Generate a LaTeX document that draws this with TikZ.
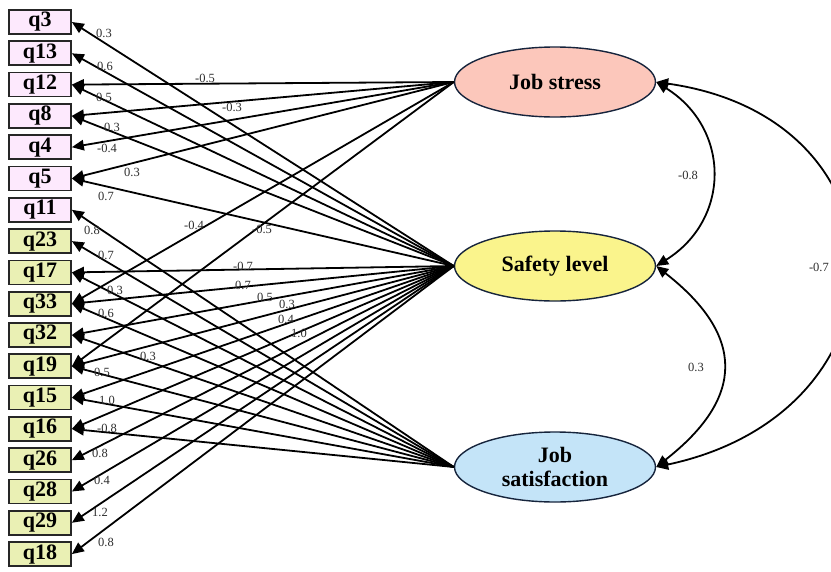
\documentclass[tikz,border=0pt]{standalone}
\usepackage{fontspec}
\setmainfont{Liberation Serif}
\usetikzlibrary{shapes.geometric,arrows.meta}

\definecolor{pinkbox}{RGB}{253,233,253}
\definecolor{greenbox}{RGB}{234,240,180}
\definecolor{stressfill}{RGB}{252,199,187}
\definecolor{safetyfill}{RGB}{250,244,140}
\definecolor{satisfill}{RGB}{196,228,248}
\definecolor{rim}{RGB}{22,36,60}
\definecolor{lblgray}{RGB}{45,45,45}

\begin{document}
\begin{tikzpicture}
  [
    x=1pt, y=-1pt,
    >={Triangle[length=12pt,width=10.5pt]},
    item/.style   = {draw=black!85, line width=1.7pt, minimum width=62pt, minimum height=24pt,
                     inner sep=0pt, font=\fontsize{22}{22}\selectfont\bfseries},
    factor/.style = {ellipse, draw=rim, line width=1.4pt, minimum width=201pt, minimum height=70pt,
                     inner sep=0pt, align=center, font=\fontsize{22}{24}\selectfont\bfseries},
    load/.style   = {->, line width=1.8pt},
    cov/.style    = {<->, line width=1.8pt},
    lbl/.style    = {inner sep=0pt, text=lblgray, font=\fontsize{12.5}{12.5}\selectfont},
  ]

%Frame of the picture
\clip (0,0) rectangle (831,571);

%Vertical distance between the indicator boxes
\def \ystep{31.3}

%Indicator boxes
\foreach [count=\i] \j in {3,13,12,8,4,5,11}
  \node[item, fill=pinkbox] (q\j) at (40, {22+(\i-1)*\ystep}) {q\j};
\foreach [count=\i from 8] \j in {23,17,33,32,19,15,16,26,28,29,18}
  \node[item, fill=greenbox] (q\j) at (40, {22+(\i-1)*\ystep}) {q\j};

%Latent variables
\node[factor, fill=stressfill] (stress) at (555,82)  {Job stress};
\node[factor, fill=safetyfill] (safety) at (555,266) {Safety level};
\node[factor, fill=satisfill]  (satis)  at (555,467) {Job\\satisfaction};

%Loadings of job stress
\foreach \bx/\val/\lx/\ly in {q12/-0.5/205/78, q8/-0.3/232/107, q4/-0.4/107/148,
                              q5/0.3/132/172, q33/-0.4/194/225, q19/-0.5/262/229}
{
\draw[load] (stress.west) -- (\bx.east);
\node[lbl] at (\lx,\ly) {\val};
}

%Loadings of safety level
\foreach \bx/\val/\lx/\ly in {q3/0.3/104/33, q13/0.6/105/66, q12/0.5/104/97, q8/0.3/112/127,
                              q5/0.7/106/196, q17/-0.7/243/266, q33/0.7/243/285, q32/0.5/265/297,
                              q19/0.3/287/304, q15/0.4/286/319, q16/1.0/299/333, q26/0.8/100/453,
                              q28/0.4/102/480, q29/1.2/100/512, q18/0.8/106/542}
{
\draw[load] (safety.west) -- (\bx.east);
\node[lbl] at (\lx,\ly) {\val};
}

%Loadings of job satisfaction
\foreach \bx/\val/\lx/\ly in {q11/0.8/92/230, q23/0.7/106/255, q17/0.3/115/290, q33/0.6/106/313,
                              q32/0.3/148/356, q19/0.5/102/372, q15/1.0/107/400, q16/-0.8/107/428}
{
\draw[load] (satis.west) -- (\bx.east);
\node[lbl] at (\lx,\ly) {\val};
}

%Covariances
\draw[cov] (stress.east) to[out=-32, in=32, distance=88pt] (safety.east);
\node[lbl] at (688,175) {-0.8};
\draw[cov] (safety.east) to[out=-38, in=38, distance=113pt] (satis.east);
\node[lbl] at (696,367) {0.3};
\draw[cov] (stress.east) to[out=-8, in=12, out distance=262pt, in distance=265pt] (satis.east);
\node[lbl, anchor=east] at (829,267) {-0.7};
\end{tikzpicture}
\end{document}
